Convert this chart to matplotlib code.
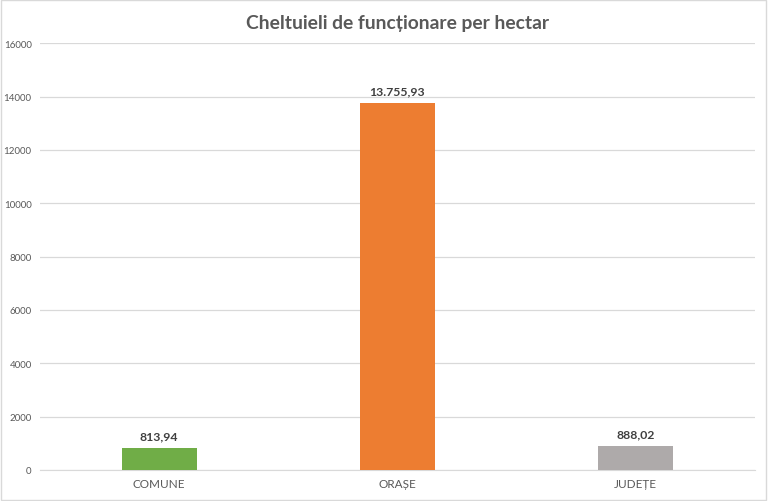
import matplotlib
matplotlib.use("Agg")
import matplotlib.pyplot as plt
from matplotlib.patches import Rectangle

categories = ["COMUNE", "ORAȘE", "JUDEȚE"]
values = [813.94, 13755.93, 888.02]
value_labels = ["813,94", "13.755,93", "888,02"]
colors = ["#70AD47", "#ED7D31", "#AEAAAA"]
yticks = [0, 2000, 4000, 6000, 8000, 10000, 12000, 14000, 16000]

plt.rcParams['font.family'] = ['Lato', 'DejaVu Sans']

fig = plt.figure(figsize=(7.68, 5.02), dpi=100)
ax = fig.add_axes([0.052, 0.062, 0.931, 0.850])
x = list(range(len(categories)))
bars = ax.bar(x, values, width=0.315, color=colors, zorder=3)
for b, lab in zip(bars, value_labels):
    ax.annotate(lab, (b.get_x() + b.get_width() / 2, b.get_height()),
                xytext=(0, 5), textcoords="offset points", ha="center", va="bottom",
                fontsize=8.8, fontweight="bold", color="#404040")
ax.set_xlim(-0.5, 2.5)
ax.set_ylim(0, 16000)
ax.set_yticks(yticks)
ax.set_yticklabels([str(t) for t in yticks])
ax.set_xticks(x)
ax.set_xticklabels(categories)
ax.tick_params(axis="y", length=0, labelsize=7, labelcolor="#595959", pad=6)
ax.tick_params(axis="x", length=0, labelsize=8.5, labelcolor="#595959", pad=6)
ax.grid(axis="y", color="#D9D9D9", linewidth=0.9, zorder=0)
for s in ["top", "right", "left"]:
    ax.spines[s].set_visible(False)
ax.spines["bottom"].set_color("#D9D9D9")
ax.set_title("Cheltuieli de funcționare per hectar", fontsize=13.9, fontweight="bold",
             color="#595959", pad=11)
fig.patches.append(Rectangle((0.001, 0.001), 0.997, 0.997, transform=fig.transFigure,
                             fill=False, edgecolor="#D9D9D9", linewidth=1))
fig.savefig("out.png", dpi=100)
